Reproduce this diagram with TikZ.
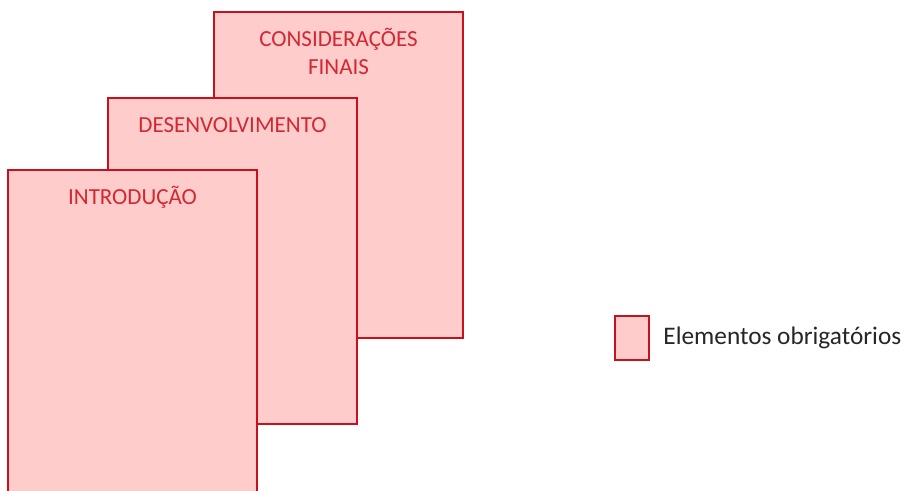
\documentclass[tikz,border=0pt]{standalone}
\usepackage{fontspec}
\setmainfont{Carlito}
\usepackage{xcolor}
\usetikzlibrary{positioning}
\definecolor{pagefill}{RGB}{255,204,204}
\definecolor{pageline}{RGB}{200,16,30}
\definecolor{pagetext}{RGB}{210,40,50}
\definecolor{legendtext}{RGB}{38,38,38}

\begin{document}
\begin{tikzpicture}[
            x = 1pt, y = -1pt, % one unit per pixel, y going down
            page/.style = {shape=rectangle, draw=pageline, fill=pagefill, line width=2.5pt,
                minimum width=249pt, minimum height=326pt, inner sep=0pt}, % one sheet
            title/.style = {text=pagetext, font=\fontsize{23}{28}\selectfont, align=center, inner sep=0pt},
            key/.style = {shape=rectangle, draw=pageline, fill=pagefill, line width=2.5pt,
                minimum width=34pt, minimum height=44pt, inner sep=0pt},
            keytext/.style = {text=legendtext, font=\fontsize{25.3}{30}\selectfont, inner sep=0pt}
        ]
\clip (0,0) rectangle (905,490);

% sheets, back to front
\node[page] (final) at (338.5,175) {};
\node[page] (desenv) at (232.5,261) {};
\node[page] (intro) at (132.5,333) {};

\node[title, below=16pt of final.north] (finaltitle) {\strut CONSIDERAÇÕES\\FINAIS};
\node[title, below=16pt of desenv.north] (desenvtitle) {\strut DESENVOLVIMENTO};
\node[title, below=16pt of intro.north] (introtitle) {\strut INTRODUÇÃO};

% legend
\node[key] (legend) at (632,338) {};
\node[keytext, right=13pt of legend] (legendlabel) {Elementos obrigatórios};
\end{tikzpicture}
\end{document}
